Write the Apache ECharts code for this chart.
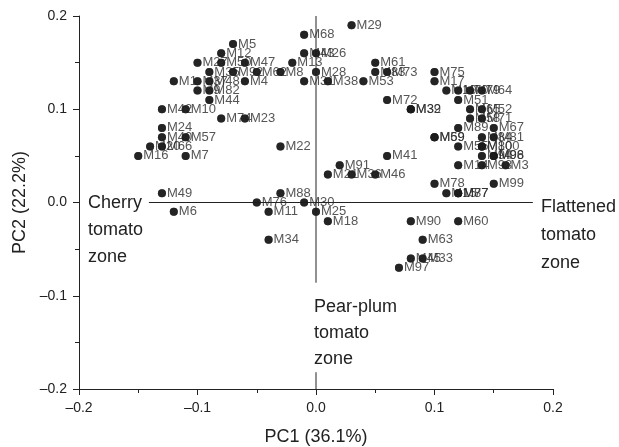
<!DOCTYPE html>
<html>
<head>
<meta charset="utf-8">
<script src="https://cdn.jsdelivr.net/npm/echarts@6/dist/echarts.min.js"></script>
<style>
  html, body { margin: 0; padding: 0; background: #fff; }
  #chart { width: 619px; height: 447px; }
</style>
</head>
<body>
<div id="chart"></div>
<script>
// cultivar labels and their PCA scores
const names = [
  "M29", "M68", "M43", "M26", "M13", "M8", "M28", "M31", "M38", "M53",
  "M61", "M83", "M73", "M72", "M32", "M39", "M75", "M17", "M19", "M70",
  "M79", "M64", "M51", "M65", "M52", "M58", "M71", "M89", "M67", "M69",
  "M59", "M84", "M81", "M55", "M80", "M100", "M94", "M96", "M98", "M14",
  "M93", "M3", "M78", "M99", "M15", "M87", "M77", "M90", "M60", "M63",
  "M45", "M33", "M97", "M22", "M91", "M21", "M36", "M46", "M41", "M88",
  "M76", "M30", "M11", "M25", "M18", "M34", "M24", "M40", "M57", "M20",
  "M66", "M16", "M7", "M49", "M6", "M5", "M12", "M27", "M50", "M47",
  "M35", "M92", "M62", "M1", "M37", "M48", "M4", "M9", "M82", "M44",
  "M42", "M10", "M74", "M23"
];
const pc1 = [
  0.03, -0.01, -0.01, 0.00, -0.02, -0.03, 0.00, -0.01, 0.01, 0.04,
  0.05, 0.05, 0.06, 0.06, 0.08, 0.08, 0.10, 0.10, 0.11, 0.12,
  0.13, 0.14, 0.12, 0.13, 0.14, 0.13, 0.14, 0.12, 0.15, 0.10,
  0.10, 0.14, 0.15, 0.12, 0.14, 0.14, 0.14, 0.15, 0.15, 0.12,
  0.14, 0.16, 0.10, 0.15, 0.11, 0.12, 0.12, 0.08, 0.12, 0.09,
  0.08, 0.09, 0.07, -0.03, 0.02, 0.01, 0.03, 0.05, 0.06, -0.03,
  -0.05, -0.01, -0.04, 0.00, 0.01, -0.04, -0.13, -0.13, -0.11, -0.14,
  -0.13, -0.15, -0.11, -0.13, -0.12, -0.07, -0.08, -0.10, -0.08, -0.06,
  -0.09, -0.07, -0.05, -0.12, -0.10, -0.09, -0.06, -0.10, -0.09, -0.09,
  -0.13, -0.11, -0.08, -0.06
];
const pc2 = [
  0.19, 0.18, 0.16, 0.16, 0.15, 0.14, 0.14, 0.13, 0.13, 0.13,
  0.15, 0.14, 0.14, 0.11, 0.10, 0.10, 0.14, 0.13, 0.12, 0.12,
  0.12, 0.12, 0.11, 0.10, 0.10, 0.09, 0.09, 0.08, 0.08, 0.07,
  0.07, 0.07, 0.07, 0.06, 0.06, 0.06, 0.05, 0.05, 0.05, 0.04,
  0.04, 0.04, 0.02, 0.02, 0.01, 0.01, 0.01, -0.02, -0.02, -0.04,
  -0.06, -0.06, -0.07, 0.06, 0.04, 0.03, 0.03, 0.03, 0.05, 0.01,
  0.00, 0.00, -0.01, -0.01, -0.02, -0.04, 0.08, 0.07, 0.07, 0.06,
  0.06, 0.05, 0.05, 0.01, -0.01, 0.17, 0.16, 0.15, 0.15, 0.15,
  0.14, 0.14, 0.14, 0.13, 0.13, 0.13, 0.13, 0.12, 0.12, 0.11,
  0.10, 0.10, 0.09, 0.09
];

// zone reference lines (PC1, PC2 pairs), broken where the zone captions sit
const hLine = [[-0.141, 0], [0.183, 0]];
const vLineTop = [[0, 0.2], [0, -0.086]];
const vLineBottom = [[0, -0.182], [0, -0.2]];

const zoneTexts = ["Cherry\ntomato\nzone", "Flattened\ntomato\nzone", "Pear-plum\ntomato\nzone"];

const points = names.map((n, i) => [pc1[i], pc2[i], n]);
const tickFmt = v => (v < 0 ? "\u2013" : "") + Math.abs(v).toFixed(1);
const font = "'Liberation Sans', Arial, sans-serif";

const refLine = data => ({
  type: "line",
  data: data,
  showSymbol: false,
  silent: true,
  z: 1,
  lineStyle: { color: "#222", width: 1 }
});

const chartDom = echarts.init(document.getElementById("chart"));
chartDom.setOption({
  animation: false,
  textStyle: { fontFamily: font },
  grid: { left: 79, right: 66, top: 16, bottom: 58, outerBoundsMode: "none" },
  xAxis: {
    type: "value",
    min: -0.2,
    max: 0.2,
    interval: 0.1,
    name: "PC1 (36.1%)",
    nameLocation: "middle",
    nameGap: 39,
    nameTextStyle: { fontSize: 18, color: "#222", fontFamily: font },
    axisLine: { onZero: false, lineStyle: { color: "#222", width: 1 } },
    axisTick: { length: 6, lineStyle: { color: "#222" } },
    minorTick: { show: true, splitNumber: 2, length: 4, lineStyle: { color: "#222" } },
    axisLabel: { formatter: tickFmt, fontSize: 14, color: "#222", margin: 12 },
    splitLine: { show: false }
  },
  yAxis: {
    type: "value",
    min: -0.2,
    max: 0.2,
    interval: 0.1,
    name: "PC2 (22.2%)",
    nameLocation: "middle",
    nameGap: 47,
    nameTextStyle: { fontSize: 18, color: "#222", fontFamily: font },
    axisLine: { onZero: false, lineStyle: { color: "#222", width: 1 } },
    axisTick: { length: 6, lineStyle: { color: "#222" } },
    minorTick: { show: true, splitNumber: 2, length: 4, lineStyle: { color: "#222" } },
    axisLabel: { formatter: tickFmt, fontSize: 14, color: "#222", margin: 12 },
    splitLine: { show: false }
  },
  series: [
    refLine(hLine),
    refLine(vLineTop),
    refLine(vLineBottom),
    {
      // labels underneath, so the dots can cover them like in the print
      type: "scatter",
      data: points,
      symbolSize: 8,
      itemStyle: { color: "#1c1c1c" },
      z: 2,
      label: {
        show: true,
        position: "right",
        distance: 1,
        formatter: p => p.data[2],
        fontSize: 13,
        color: "#2a2a2a",
        fontFamily: font
      }
    },
    {
      type: "scatter",
      data: points,
      symbolSize: 8,
      itemStyle: { color: "#1c1c1c" },
      z: 3
    }
  ],
  graphic: [
    { type: "text", left: 88, top: 190, style: { text: zoneTexts[0], font: "18px " + font, lineHeight: 27, fill: "#222" } },
    { type: "text", left: 541, top: 193, style: { text: zoneTexts[1], font: "18px " + font, lineHeight: 28, fill: "#222" } },
    { type: "text", left: 314, top: 294, style: { text: zoneTexts[2], font: "18px " + font, lineHeight: 26, fill: "#222" } }
  ]
});
</script>
</body>
</html>
